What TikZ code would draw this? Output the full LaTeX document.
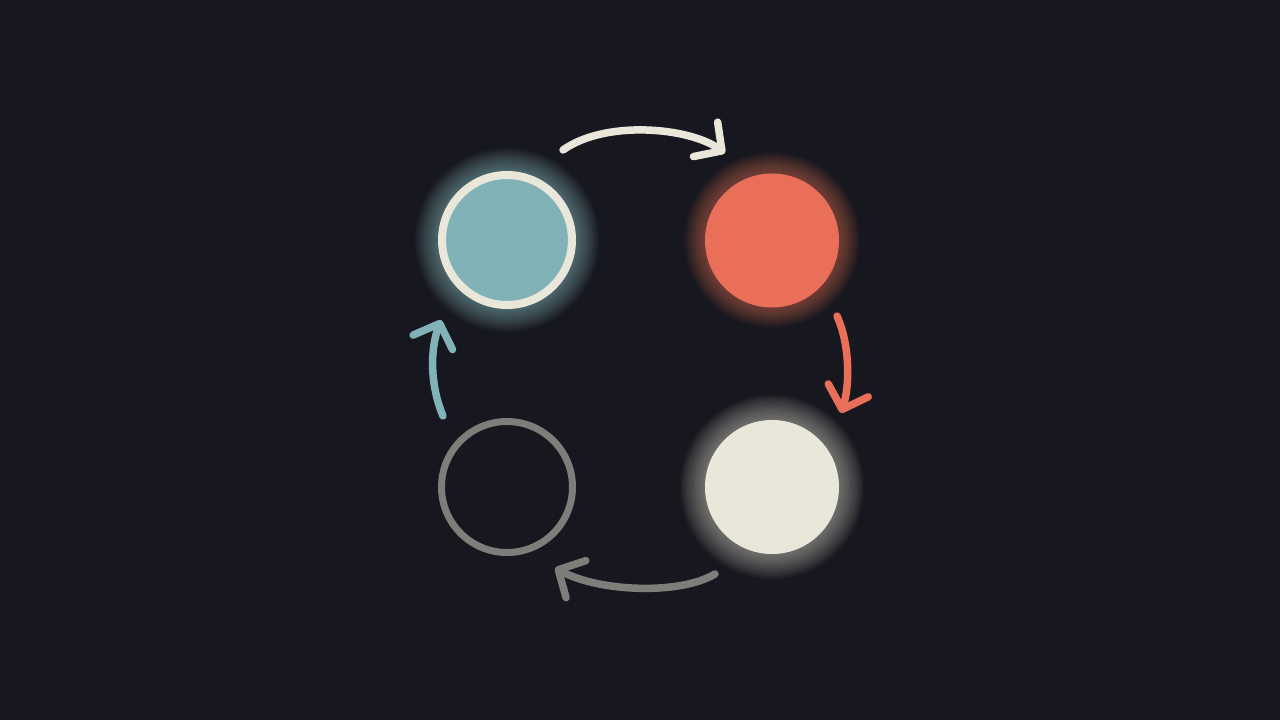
\documentclass[tikz,border=0pt]{standalone}
\usetikzlibrary{arrows.meta}
\definecolor{bgc}{HTML}{17181F}
\definecolor{tealc}{HTML}{80B2B7}
\definecolor{tealglow}{HTML}{9FD3D6}
\definecolor{creamc}{HTML}{E9E7DA}
\definecolor{coralc}{HTML}{E96F59}
\definecolor{coralglow}{HTML}{F07A62}
\definecolor{grayc}{HTML}{7F7D79}
\tikzset{
  dot/.style={circle, inner sep=0pt, minimum size=#1},
  flow/.style={line width=7.5pt, line cap=round,
    -{Straight Barb[length=20pt,width=42pt,round]}},
}
\newcommand{\glowat}[4]{% center, base radius, colour, step
  \foreach \i in {1,...,22}{
    \fill[#3, opacity=0.028] #1 circle[radius=#2+#4*\i];
  }
}
\begin{document}
\begin{tikzpicture}[x=1pt,y=-1pt]
\fill[bgc] (0,0) rectangle (1280,720);
\useasboundingbox (0,0) rectangle (1280,720);
% glows
\glowat{(507,240)}{68}{tealglow}{1.1}
\glowat{(772,240)}{66}{coralglow}{1.0}
\glowat{(772,487)}{66}{creamc}{1.2}
% circles
\node[dot=130pt, fill=tealc, draw=creamc, line width=8pt] (teal) at (507,240) {};
\node[dot=134pt, fill=coralc] (coral) at (772,240.5) {};
\node[dot=134pt, fill=creamc] (cream) at (772,487) {};
\node[dot=131pt, draw=grayc, line width=7pt] (gray) at (507,487) {};
% arrow end points
\coordinate (a1) at (563,150);
\coordinate (b1) at (725,153);
\coordinate (a2) at (837,316);
\coordinate (b2) at (841,413);
\coordinate (a3) at (715,574);
\coordinate (b3) at (555,568);
\coordinate (a4) at (443,416);
\coordinate (b4) at (441,320);
% arrows
\draw[flow, creamc] (a1) .. controls (605,120) and (688,127) .. (b1);
\draw[flow, coralc] (a2) .. controls (850,345) and (850,385) .. (b2);
\draw[flow, grayc] (a3) .. controls (680,595) and (600,592) .. (b3);
\draw[flow, tealc] (a4) .. controls (430,385) and (430,350) .. (b4);
\end{tikzpicture}
\end{document}
